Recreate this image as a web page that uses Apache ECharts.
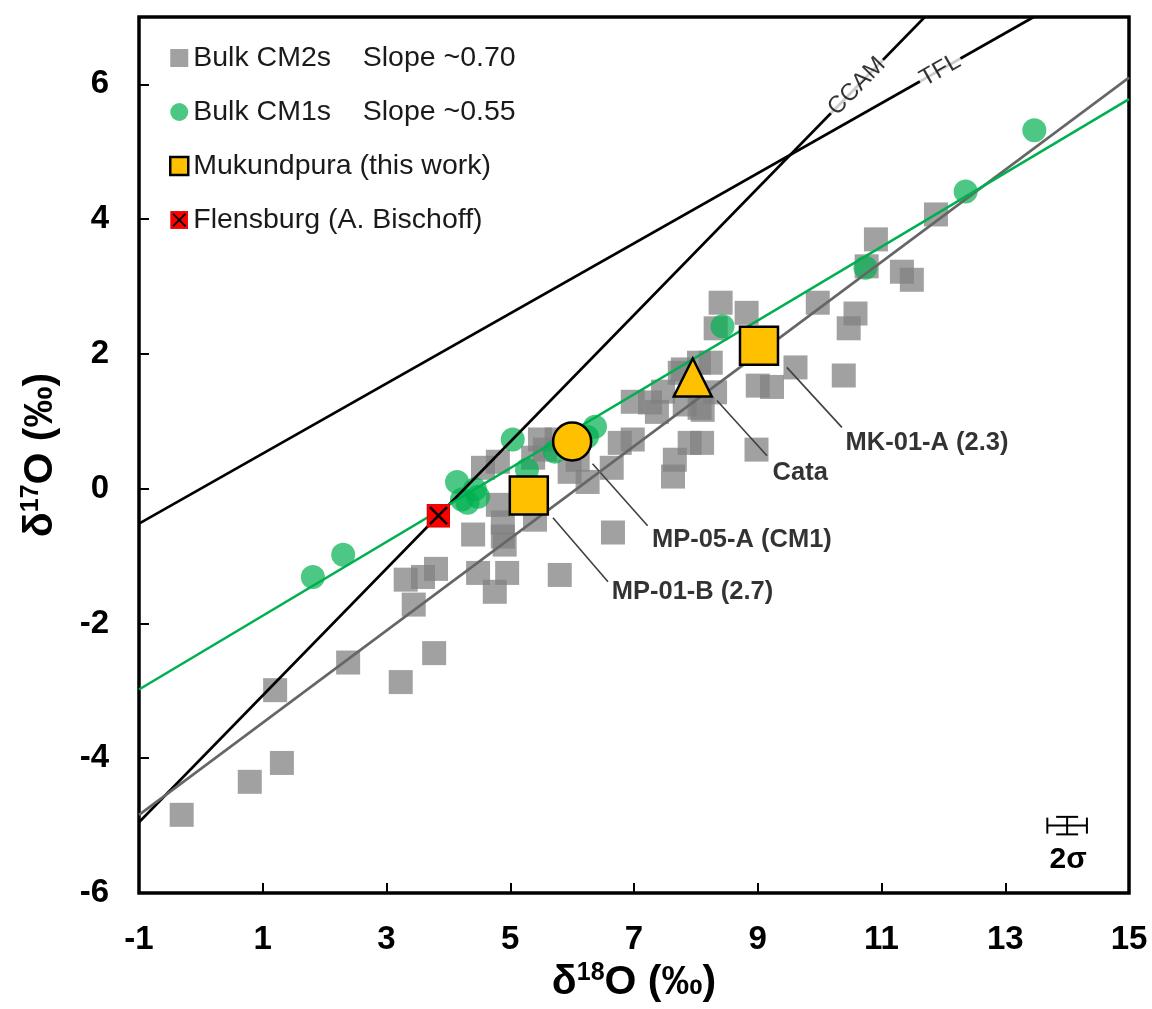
<!DOCTYPE html>
<html>
<head>
<meta charset="utf-8">
<title>Oxygen three-isotope plot</title>
<script src="https://cdn.jsdelivr.net/npm/echarts@6/dist/echarts.min.js"></script>
<style>
  html, body { margin: 0; padding: 0; background: #fff; }
  #chart { width: 1152px; height: 1009px; }
</style>
</head>
<body>
<div id="chart"></div>
<script>
// ---- axis ticks ----
const xTicks = [-1, 1, 3, 5, 7, 9, 11, 13, 15];
const yTicks = [-6, -4, -2, 0, 2, 4, 6];

// ---- bulk CM2 chondrites [d18O, d17O] ----
const cm2Bulk = [
  [-0.31, -4.84], [0.79, -4.35], [1.31, -4.07], [1.20, -2.99], [2.38, -2.58],
  [3.23, -2.87], [3.77, -2.44], [3.44, -1.72], [3.31, -1.35], [3.59, -1.31],
  [3.80, -1.19], [4.40, -0.68], [4.48, -1.25], [4.75, -1.53], [4.95, -1.25],
  [4.91, -0.83], [4.88, -0.50], [4.80, -0.24], [4.56, 0.31], [4.80, 0.40],
  [5.40, -0.46], [5.80, -1.28], [6.66, -0.65], [5.48, 0.73], [5.37, 0.46],
  [5.56, 0.58], [5.75, 0.73], [6.09, 0.43], [5.96, 0.25], [6.25, 0.10],
  [6.64, 0.31], [6.77, 0.68], [6.98, 0.73], [6.98, 1.29], [7.26, 1.28],
  [7.37, 1.14], [7.47, 1.44], [7.79, 1.77], [7.82, 1.25], [8.06, 1.20],
  [7.90, 0.68], [8.10, 0.68], [7.66, 0.43], [7.63, 0.18], [8.05, 1.87],
  [8.24, 1.87], [7.74, 1.72], [8.32, 2.38], [8.40, 2.76], [8.82, 2.61],
  [8.98, 0.58], [9.00, 1.53], [9.23, 1.51], [9.61, 1.80], [10.39, 1.68],
  [9.97, 2.76], [10.58, 2.60], [10.47, 2.38], [10.76, 3.30], [10.91, 3.70],
  [11.33, 3.22], [11.49, 3.10], [11.88, 4.07], [8.31, 1.43], [8.11, 1.17],
  [4.88, -0.71]
];

// ---- bulk CM1 chondrites [d18O, d17O] ----
const cm1Bulk = [
  [1.81, -1.31], [2.30, -0.98], [4.14, 0.10], [4.22, -0.16], [4.31, -0.21],
  [4.43, -0.01], [4.48, -0.12], [5.04, 0.73], [5.27, 0.28], [5.72, 0.55],
  [6.24, 0.77], [6.37, 0.92], [8.43, 2.41], [10.74, 3.28], [12.36, 4.41],
  [13.47, 5.32]
];

// ---- Mukundpura fragments (this work) and Flensburg ----
const mukundpuraNames = ['MP-01-B (2.7)', 'MP-05-A (CM1)', 'Cata', 'MK-01-A (2.3)'];
const mukundpuraValues = [[5.30, -0.10], [6.00, 0.70], [7.95, 1.65], [9.02, 2.12]];
const flensburgValues = [[3.84, -0.40]];

// ---- reference lines, end points [d18O, d17O] ----
const ccamLine = [[-1, -4.95], [11.70, 7.00]];
const tflLine = [[-1, -0.52], [13.46, 7.00]];
const cm2Trend = [[-1, -4.84], [15, 6.10]];
const cm1Trend = [[-1, -2.98], [15, 5.78]];

// ---- analytical uncertainty (2 sigma) ----
const twoSigma = [[14.0, -5.0, 0.32, 0.13]];

// ---- callout layout (data coordinates) ----
const calloutLeaders = [
  [[5.69, -0.43], [6.58, -1.38]],
  [[6.33, 0.37], [7.22, -0.55]],
  [[8.34, 1.31], [9.15, 0.49]],
  [[9.47, 1.80], [10.36, 0.91]]
];
const calloutAnchors = [[6.64, -1.53], [7.29, -0.76], [9.24, 0.24], [10.42, 0.68]];
const lineTagAnchors = [[10.60, 5.97], [11.95, 6.21]];
const lineTagNames = ['CCAM', 'TFL'];

const SANS = "'Liberation Sans',Arial,Helvetica,sans-serif";

const flensburgSvg =
  "<svg xmlns='http://www.w3.org/2000/svg' width='48' height='48' viewBox='0 0 48 48'>" +
  "<rect x='1' y='1' width='46' height='46' fill='#ff0000' stroke='#d00000' stroke-width='2'/>" +
  "<path d='M7 7 L41 41 M41 7 L7 41' stroke='#000' stroke-width='5'/></svg>";
const flensburgIcon = 'image://data:image/svg+xml;charset=utf-8,' + encodeURIComponent(flensburgSvg);

const markerShapes = ['rect', 'circle', 'triangle', 'rect'];
const markerSizes = [38, 38, 38, 38];

const tagAngle = { CCAM: 45.7, TFL: 29.5 };

function refLine(name, data, color) {
  return {
    name: name, type: 'line', data: data, showSymbol: false, silent: true, z: 4,
    lineStyle: { color: color, width: 2.6 },
    emphasis: { disabled: true }
  };
}

const titleRich = {
  d: { fontFamily: SANS, fontWeight: 'bold', fontSize: 41, color: '#000', lineHeight: 44 },
  s: { fontFamily: SANS, fontWeight: 'bold', fontSize: 25, color: '#000', lineHeight: 44, verticalAlign: 'top', padding: [0, 0, 16, 0] }
};

const chart = echarts.init(document.getElementById('chart'), null, { renderer: 'canvas' });

const option = {
  animation: false,
  backgroundColor: '#ffffff',
  grid: {
    left: 139, right: 23, top: 17, bottom: 116,
    show: true, borderColor: '#000', borderWidth: 3.5, backgroundColor: 'transparent'
  },
  legend: {
    orient: 'vertical', left: 164, top: 37,
    itemWidth: 18, itemHeight: 18, itemGap: 22,
    selectedMode: false,
    textStyle: { fontFamily: SANS, fontSize: 28.5, color: '#1a1a1a', lineHeight: 32 },
    data: [
      { name: 'Bulk CM2s    Slope ~0.70', icon: 'rect' },
      { name: 'Bulk CM1s    Slope ~0.55', icon: 'circle' },
      { name: 'Mukundpura (this work)', icon: 'rect', itemStyle: { color: '#FFC000', borderColor: '#000', borderWidth: 2.5 } },
      { name: 'Flensburg (A. Bischoff)', icon: flensburgIcon }
    ]
  },
  xAxis: {
    type: 'value', min: -1, max: 15,
    axisLine: { show: false, onZero: false },
    splitLine: { show: false },
    axisTick: { show: true, inside: true, length: 10, customValues: xTicks, lineStyle: { color: '#000', width: 2 } },
    axisLabel: { customValues: xTicks, margin: 30, fontFamily: SANS, fontWeight: 'bold', fontSize: 33, color: '#000' },
    name: '{d|δ}{s|18}{d|O (‰)}',
    nameLocation: 'middle', nameGap: 68,
    nameTextStyle: { rich: titleRich }
  },
  yAxis: {
    type: 'value', min: -6, max: 7,
    axisLine: { show: false, onZero: false },
    splitLine: { show: false },
    axisTick: { show: true, inside: true, length: 10, customValues: yTicks, lineStyle: { color: '#000', width: 2 } },
    axisLabel: { customValues: yTicks, margin: 30, fontFamily: SANS, fontWeight: 'bold', fontSize: 33, color: '#000' },
    name: '{d|δ}{s|17}{d|O (‰)}',
    nameLocation: 'middle', nameGap: 76,
    nameTextStyle: { rich: titleRich }
  },
  series: [
    {
      name: 'Bulk CM2s    Slope ~0.70', type: 'scatter', data: cm2Bulk, z: 2,
      symbol: 'rect', symbolSize: 24,
      itemStyle: { color: 'rgba(128,128,128,0.74)', opacity: 1 },
      emphasis: { disabled: true }
    },
    {
      name: 'Bulk CM1s    Slope ~0.55', type: 'scatter', data: cm1Bulk, z: 3,
      symbol: 'circle', symbolSize: 24,
      itemStyle: { color: 'rgba(0,176,80,0.70)', opacity: 1 },
      emphasis: { disabled: true }
    },
    refLine('CCAM line', ccamLine, '#000'),
    refLine('TFL line', tflLine, '#000'),
    refLine('CM2 trend', cm2Trend, '#666666'),
    refLine('CM1 trend', cm1Trend, '#00B050'),
    {
      name: 'callout leaders', type: 'lines', coordinateSystem: 'cartesian2d', z: 4, silent: true,
      lineStyle: { color: '#404040', width: 1.6, opacity: 1 },
      data: calloutLeaders.map(c => ({ coords: c }))
    },
    {
      name: 'line tags', type: 'scatter', z: 5, silent: true, symbolSize: 0,
      data: lineTagAnchors.map((v, i) => ({
        name: lineTagNames[i], value: v,
        label: { rotate: tagAngle[lineTagNames[i]] }
      })),
      label: {
        show: true, position: 'inside', formatter: '{b}',
        fontFamily: SANS, fontSize: 24, color: '#000',
        backgroundColor: '#fff', padding: [0, 2]
      }
    },
    {
      name: 'Mukundpura (this work)', type: 'scatter', z: 6,
      data: mukundpuraValues.map((v, i) => ({
        name: mukundpuraNames[i], value: v,
        symbol: markerShapes[i], symbolSize: markerSizes[i]
      })),
      itemStyle: { color: '#FFC000', borderColor: '#000', borderWidth: 2.5, opacity: 1 },
      emphasis: { disabled: true }
    },
    {
      name: 'Flensburg (A. Bischoff)', type: 'scatter', z: 7,
      data: flensburgValues, symbol: flensburgIcon, symbolSize: 24,
      itemStyle: { opacity: 1 },
      emphasis: { disabled: true }
    },
    {
      name: 'callouts', type: 'scatter', z: 8, silent: true, symbolSize: 0,
      data: calloutAnchors.map((v, i) => ({ name: mukundpuraNames[i], value: v })),
      label: {
        show: true, position: 'right', distance: 0, formatter: '{b}',
        fontFamily: SANS, fontWeight: 'bold', fontSize: 25.5, color: '#000'
      }
    },
    {
      name: '2 sigma', type: 'custom', z: 8, silent: true, data: twoSigma,
      renderItem: function (params, api) {
        const x = api.value(0), y = api.value(1), dx = api.value(2), dy = api.value(3);
        const c = api.coord([x, y]);
        const l = api.coord([x - dx, y]);
        const r = api.coord([x + dx, y]);
        const t = api.coord([x, y + dy]);
        const b = api.coord([x, y - dy]);
        const st = { stroke: '#000', lineWidth: 2 };
        const capV = 8, capH = 11;
        return {
          type: 'group',
          children: [
            { type: 'line', shape: { x1: l[0], y1: c[1], x2: r[0], y2: c[1] }, style: st },
            { type: 'line', shape: { x1: l[0], y1: c[1] - capV, x2: l[0], y2: c[1] + capV }, style: st },
            { type: 'line', shape: { x1: r[0], y1: c[1] - capV, x2: r[0], y2: c[1] + capV }, style: st },
            { type: 'line', shape: { x1: c[0], y1: t[1], x2: c[0], y2: b[1] }, style: st },
            { type: 'line', shape: { x1: c[0] - capH, y1: t[1], x2: c[0] + capH, y2: t[1] }, style: st },
            { type: 'line', shape: { x1: c[0] - capH, y1: b[1], x2: c[0] + capH, y2: b[1] }, style: st },
            {
              type: 'text',
              style: {
                text: '2σ', x: c[0] + 1, y: b[1] + 10, align: 'center', verticalAlign: 'top',
                font: "bold 30px 'Liberation Sans', Arial, sans-serif", fill: '#000'
              }
            }
          ]
        };
      }
    }
  ]
};

chart.setOption(option);
</script>
</body>
</html>
